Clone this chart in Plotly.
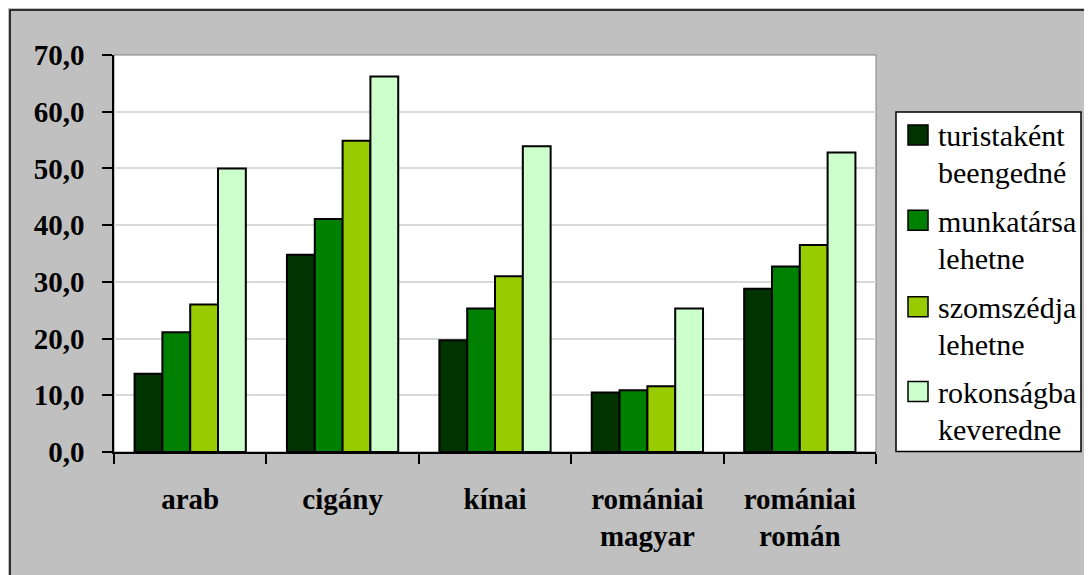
import plotly.graph_objects as go

categories = ["arab", "cigány", "kínai", "romániai<br>magyar", "romániai<br>román"]
series_names = [["turistaként", "beengedné"], ["munkatársa", "lehetne"],
                ["szomszédja", "lehetne"], ["rokonságba", "keveredne"]]
turistakent = [13.8, 34.8, 19.7, 10.5, 28.8]
munkatarsa = [21.1, 41.1, 25.3, 10.9, 32.7]
szomszedja = [26.0, 54.9, 31.0, 11.6, 36.5]
rokonsagba = [50.0, 66.2, 53.9, 25.3, 52.8]
series_values = [turistakent, munkatarsa, szomszedja, rokonsagba]
colors = ["#003300", "#008000", "#99CC00", "#CCFFCC"]
y_ticks = [0, 10, 20, 30, 40, 50, 60, 70]

SERIF = "Liberation Serif, Times New Roman, DejaVu Serif, serif"
OFF = 8  # page body margin
W, H = 1092 - OFF, 575 - OFF
L, R, T, B = 114 - OFF, 876 - OFF, 55 - OFF, 452.5 - OFF


def px(x):
    return (x - OFF - L) / (R - L)


def py(y):
    return (B - (y - OFF)) / (B - T)


fig = go.Figure()
for name, vals, col in zip(series_names, series_values, colors):
    fig.add_trace(go.Bar(
        x=categories, y=vals, name=" ".join(name),
        marker=dict(color=col, line=dict(color="#000000", width=2)),
        showlegend=False,
    ))

shapes = [
    dict(type="rect", xref="paper", yref="paper", x0=px(10), y0=py(600), x1=px(1120), y1=py(10),
         line=dict(color="#000000", width=1.5), layer="below"),
    dict(type="rect", xref="paper", yref="paper", x0=px(896), y0=py(452), x1=px(1081), y1=py(112),
         line=dict(color="#000000", width=1.5), fillcolor="#FFFFFF"),
    dict(type="rect", xref="paper", yref="paper", x0=0, y0=0, x1=1, y1=1,
         line=dict(color="#808080", width=1), layer="below"),
]
annotations = []
entry_y = [135, 220.5, 307, 392]
for (l1, l2), col, cy in zip(series_names, colors, entry_y):
    shapes.append(dict(type="rect", xref="paper", yref="paper", x0=px(908), x1=px(928),
                       y0=py(cy + 10), y1=py(cy - 10), fillcolor=col,
                       line=dict(color="#000000", width=1.5)))
    for i, t in enumerate([l1, l2]):
        annotations.append(dict(xref="paper", yref="paper", x=px(936), y=py(cy + 1 + i * 37),
                                text=t, showarrow=False, xanchor="left", yanchor="middle",
                                font=dict(family=SERIF, size=30, color="#000000")))

fig.update_layout(
    width=W, height=H,
    margin=dict(l=L, r=W - R, t=T, b=H - B, pad=0),
    paper_bgcolor="#C0C0C0", plot_bgcolor="#FFFFFF",
    barmode="group", bargap=0.27, bargroupgap=0,
    separators=", ",
    shapes=shapes, annotations=annotations,
    font=dict(family=SERIF, size=29, color="#000000"),
)
fig.update_yaxes(range=[0, 70], tickvals=y_ticks, tickformat=".1f",
                 showgrid=True, gridcolor="#D9D9D9", gridwidth=1.5,
                 showline=True, linecolor="#000000", linewidth=1.5,
                 ticks="outside", ticklen=10, tickcolor="#000000", tickwidth=1.5,
                 ticklabelstandoff=12,
                 tickfont=dict(family=SERIF, size=29, color="#000000", weight="bold"),
                 zeroline=False)
fig.update_xaxes(showline=True, linecolor="#000000", linewidth=1.5,
                 ticks="outside", ticklen=10, tickcolor="#000000", tickwidth=1.5,
                 tickson="boundaries", ticklabelstandoff=20,
                 tickfont=dict(family=SERIF, size=29, color="#000000", weight="bold"))

fig.write_html("out.html")
